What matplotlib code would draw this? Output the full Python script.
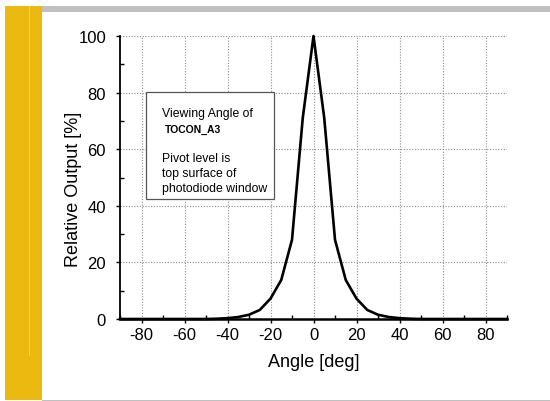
import matplotlib
matplotlib.use('Agg')
import matplotlib.pyplot as plt
import matplotlib.patches as patches
from matplotlib.ticker import MultipleLocator

plt.rcParams['font.family'] = ['Liberation Sans', 'DejaVu Sans']
plt.rcParams['axes.unicode_minus'] = False

# viewing angle profile
angle = [-90, -50, -45, -40, -35, -30, -25, -20, -15, -10, -5, 0,
         5, 10, 15, 20, 25, 30, 35, 40, 45, 50, 90]
output = [0, 0, 0.1, 0.3, 0.7, 1.5, 3.2, 7.2, 13.8, 28, 71, 100,
          71, 28, 13.8, 7.2, 3.2, 1.5, 0.7, 0.3, 0.1, 0, 0]

fig = plt.figure(figsize=(5.5, 4.02), dpi=100)

# slide decoration: yellow side bar, grey top bar and bottom line
fig.patches.append(patches.Rectangle((5/550, 1 - 401/402), 37/550, 394/402,
                   transform=fig.transFigure, facecolor='#EBB90F', edgecolor='none'))
fig.patches.append(patches.Rectangle((28.5/550, 1 - 357/402), 1/550, 350/402,
                   transform=fig.transFigure, facecolor='#F3D060', edgecolor='none'))
fig.patches.append(patches.Rectangle((42/550, 1 - 13/402), 508/550, 6/402,
                   transform=fig.transFigure, facecolor='#C0C0C0', edgecolor='none'))
fig.patches.append(patches.Rectangle((42/550, 1 - 402/402), 508/550, 1.5/402,
                   transform=fig.transFigure, facecolor='#C0C0C0', edgecolor='none'))

ax = fig.add_axes([120/550, 1 - 320/402, 387/550, 283/402])
ax.plot(angle, output, color='black', lw=1.9, clip_on=False, zorder=3)

ax.set_xlim(-90, 90)
ax.set_ylim(0, 100)
ax.xaxis.set_major_locator(MultipleLocator(20))
ax.xaxis.set_minor_locator(MultipleLocator(10))
ax.yaxis.set_major_locator(MultipleLocator(20))
ax.yaxis.set_minor_locator(MultipleLocator(10))
ax.grid(True, which='major', color='#8c8c8c', ls=(0, (1, 1.5)), lw=0.8)

for s in ['top', 'right']:
    ax.spines[s].set_visible(False)
ax.spines['left'].set_linewidth(1.3)
ax.spines['bottom'].set_linewidth(1.8)

ax.tick_params(axis='both', which='major', direction='out', length=3, width=1,
               labelsize=12)
ax.tick_params(axis='x', which='major', pad=3)
ax.tick_params(axis='y', which='major', pad=7)
ax.tick_params(axis='both', which='minor', direction='in', length=3, width=1)

ax.set_xlabel('Angle [deg]', fontsize=13, labelpad=8)
ax.set_ylabel('Relative Output [%]', fontsize=13)
ax.yaxis.set_label_coords(-0.097, 0.46)

# annotation box
ax.add_patch(patches.Rectangle((-77.7, 42.5), 59.5, 37.8, facecolor='white',
             edgecolor='#555555', lw=0.9, zorder=4))
ax.text(-70.5, 72.8, 'Viewing Angle of', fontsize=8.8, va='center', zorder=5)
ax.text(-69.1, 67.1, 'TOCON_A3', fontsize=7.5, fontweight='bold', va='center', zorder=5)
ax.text(-70.5, 56.9, 'Pivot level is', fontsize=8.8, va='center', zorder=5)
ax.text(-70.5, 51.6, 'top surface of', fontsize=8.8, va='center', zorder=5)
ax.text(-70.5, 46.3, 'photodiode window', fontsize=8.8, va='center', zorder=5)

plt.savefig('out.png', dpi=100, facecolor='white')
plt.close()
